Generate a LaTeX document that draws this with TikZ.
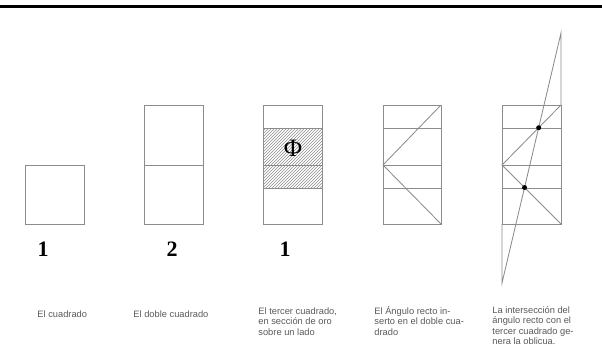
\documentclass[tikz,border=0pt]{standalone}
\usepackage{fontspec}
\setmainfont{Liberation Serif}
\setsansfont{Liberation Sans}
\usetikzlibrary{positioning, calc}
\usetikzlibrary{patterns}

\begin{document}
\begin{tikzpicture}[x=1pt,y=-1pt,draw=black!45,line width=0.85pt]
	\def \rowtop{105}
	\def \rowphi{128}
	\def \rowmid{165}
	\def \rowphib{188}
	\def \rowbot{224}
	\def \numrow{249}
	\tikzstyle{num}=[font=\fontsize{22}{22}\selectfont\bfseries,text=black]
	\tikzstyle{annot}=[anchor=north west,align=left,inner sep=0pt,font=\sffamily\fontsize{9.3}{10.5}\selectfont,text=black!65]
	\tikzstyle{isect}=[circle,fill=black,draw=none,inner sep=0pt,minimum size=5pt]
	\useasboundingbox (0,0) rectangle (602,361);
	% header rule
	\coordinate (hl) at (0,6.2);
	\coordinate (hr) at (602,6.2);
	\draw[black,line width=3pt] (hl) -- (hr);

	% the square
	\draw (25,\rowmid) rectangle (84,\rowbot);
	\node[num] (n1) at (43,\numrow) {1};

	% the double square
	\draw (144,\rowtop) rectangle (203,\rowbot);
	\draw (144,\rowmid) -- (203,\rowmid);
	\node[num] (n2) at (172,\numrow) {2};

	% third square, golden section
	\fill[pattern=north east lines,pattern color=black!45] (263,\rowphi) rectangle (322,\rowphib);
	\draw (263,\rowtop) rectangle (322,\rowbot);
	\draw (263,\rowphi) -- (322,\rowphi);
	\draw (263,\rowmid) -- (322,\rowmid);
	\draw (263,\rowphib) -- (322,\rowphib);
	\node[font=\fontsize{25}{25}\selectfont,text=black] (phi) at (293,148) {Φ};
	\node[num] (n3) at (285,\numrow) {1};

	% right angle in the double square
	\draw (383,\rowtop) rectangle (441,\rowbot);
	\draw (383,\rowphi) -- (441,\rowphi);
	\draw (383,\rowmid) -- (441,\rowmid);
	\draw (383,\rowphib) -- (441,\rowphib);
	\coordinate (a4) at (441,\rowtop);
	\coordinate (b4) at (383,\rowmid);
	\coordinate (c4) at (441,\rowbot);
	\draw (a4) -- (b4) -- (c4);

	% the oblique
	\draw (502,\rowtop) rectangle (561,\rowbot);
	\draw (502,\rowphi) -- (561,\rowphi);
	\draw (502,\rowmid) -- (561,\rowmid);
	\draw (502,\rowphib) -- (561,\rowphib);
	\coordinate (a5) at (561,\rowtop);
	\coordinate (b5) at (502,\rowmid);
	\coordinate (c5) at (561,\rowbot);
	\coordinate (d5) at (502,\rowbot);
	\coordinate (otop) at (561,33);
	\coordinate (obot) at (502,283);
	\draw (a5) -- (b5) -- (c5);
	\draw (a5) -- (otop) -- (obot) -- (d5);
	\node[isect] (p1) at (intersection of otop--obot and a5--b5) {};
	\node[isect] (p2) at (intersection of otop--obot and b5--c5) {};

	% captions
	\node[annot] (t1) at (37,310) {El cuadrado};
	\node[annot] (t2) at (133,310) {El doble cuadrado};
	\node[annot] (t3) at (258,307) {El tercer cuadrado,\\en sección de oro\\sobre un lado};
	\node[annot] (t4) at (374,306) {El Ángulo recto in-\\serto en el doble cua-\\drado};
	\node[annot] (t5) at (492,306) {La intersección del\\ángulo recto con el\\tercer cuadrado ge-\\nera la oblicua.};
\end{tikzpicture}
\end{document}
